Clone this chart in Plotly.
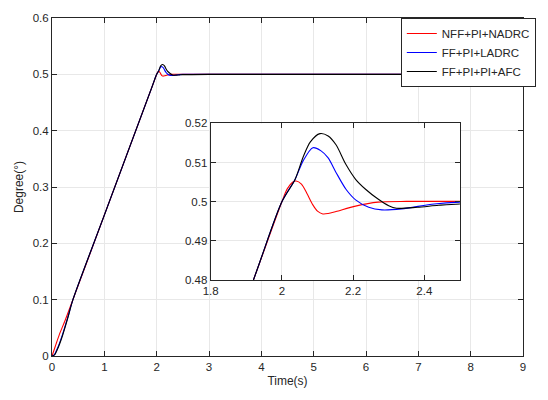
import plotly.graph_objects as go

# ---- data ----
names = ["NFF+PI+NADRC", "FF+PI+LADRC", "FF+PI+PI+AFC"]
colors = ["#ff0000", "#0000ff", "#000000"]

t_red = [0, 0.03, 0.08, 0.14, 0.25, 0.4, 1.0, 1.92, 2.0, 2.015, 2.03, 2.04, 2.055, 2.07,
         2.087, 2.10, 2.115, 2.13, 2.152, 2.207, 2.27, 2.35, 2.5, 3.0, 9.0]
y_red = [0, 0.008, 0.022, 0.038, 0.063, 0.1, 0.25, 0.48, 0.5, 0.5033, 0.5050, 0.5053, 0.5045, 0.5022,
         0.4992, 0.4976, 0.4969, 0.4970, 0.4975, 0.4989, 0.4999, 0.5001, 0.5001, 0.5, 0.5]

t_blue = [0, 0.05, 0.1, 0.14, 0.2, 0.3, 0.4, 1.0, 1.92, 2.0, 2.037, 2.06, 2.087, 2.11, 2.13,
          2.152, 2.18, 2.207, 2.244, 2.281, 2.336, 2.428, 2.5, 3.0, 9.0]
y_blue = [0, 0.003, 0.013, 0.022, 0.038, 0.068, 0.1, 0.25, 0.48, 0.5, 0.5057, 0.5105, 0.5138, 0.5130, 0.5112,
          0.5075, 0.5032, 0.5005, 0.4986, 0.49794, 0.4982, 0.49945, 0.4999, 0.5, 0.5]

t_black = [0, 0.05, 0.1, 0.14, 0.2, 0.3, 0.4, 1.0, 1.92, 2.0, 2.037, 2.06, 2.08, 2.107, 2.13,
           2.152, 2.18, 2.207, 2.235, 2.27, 2.30, 2.322, 2.38, 2.44, 2.5, 3.0, 9.0]
y_black = [0, 0.002, 0.011, 0.020, 0.036, 0.067, 0.1, 0.25, 0.48, 0.5, 0.5057, 0.5115, 0.5153, 0.5174, 0.5168,
           0.51455, 0.5095, 0.50574, 0.5032, 0.5007, 0.4990, 0.49836, 0.4986, 0.4991, 0.49945, 0.5, 0.5]

series = [(t_red, y_red), (t_blue, y_blue), (t_black, y_black)]

main_xticks = [0, 1, 2, 3, 4, 5, 6, 7, 8, 9]
main_yticks = [0, 0.1, 0.2, 0.3, 0.4, 0.5, 0.6]
main_ylabels = ["0", "0.1", "0.2", "0.3", "0.4", "0.5", "0.6"]
inset_xticks = [1.8, 2.0, 2.2, 2.4]
inset_xlabels = ["1.8", "2", "2.2", "2.4"]
inset_yticks = [0.48, 0.49, 0.50, 0.51, 0.52]
inset_ylabels = ["0.48", "0.49", "0.5", "0.51", "0.52"]

fig = go.Figure()
for (t, y), n, c in zip(series, names, colors):
    fig.add_trace(go.Scatter(x=t, y=y, mode="lines", name=n,
                             line=dict(color=c, width=1.1, shape="spline", smoothing=0.8),
                             xaxis="x", yaxis="y"))
for (t, y), n, c in zip(series, names, colors):
    fig.add_trace(go.Scatter(x=t, y=y, mode="lines", name=n + " zoom", showlegend=False,
                             line=dict(color=c, width=1.1, shape="spline", smoothing=0.8),
                             xaxis="x2", yaxis="y2"))

axcol = "#262626"
gridcol = "#e8e8e8"
common = dict(showline=True, linecolor=axcol, linewidth=1, mirror="ticks",
              ticks="inside", ticklen=5, tickcolor=axcol, tickwidth=1,
              showgrid=True, gridcolor=gridcol, gridwidth=1, zeroline=False,
              tickfont=dict(family="Liberation Sans, Arial", size=11.5, color=axcol))

L, R, T, B = 52, 18, 13, 44
W, H = 548, 400
pw, ph = W - L - R, H - T - B

def px_x(p):
    return (p - L) / pw

def px_y(p):
    return (H - B - p) / ph

fig.update_layout(
    width=W, height=H,
    margin=dict(l=L, r=R, t=T, b=B),
    paper_bgcolor="white", plot_bgcolor="white",
    font=dict(family="Liberation Sans, Arial", size=11, color=axcol),
    xaxis=dict(range=[0, 9], tickvals=main_xticks, domain=[0, 1],
               title=dict(text="Time(s)", font=dict(size=12), standoff=4), **common),
    yaxis=dict(range=[0, 0.6], tickvals=main_yticks, ticktext=main_ylabels, domain=[0, 1],
               title=dict(text="Degree(°)", font=dict(size=12), standoff=6), **common),
    xaxis2=dict(range=[1.8, 2.5], tickvals=inset_xticks, ticktext=inset_xlabels,
                domain=[px_x(213), px_x(466)], anchor="y2", **common),
    yaxis2=dict(range=[0.48, 0.52], tickvals=inset_yticks, ticktext=inset_ylabels,
                domain=[px_y(279), px_y(120)], anchor="x2", **common),
    legend=dict(x=px_x(543), y=1, xanchor="right", yanchor="top",
                bgcolor="white", bordercolor=axcol, borderwidth=1,
                font=dict(family="Liberation Sans, Arial", size=11.5, color=axcol),
                tracegroupgap=0, itemwidth=30),
    showlegend=True,
)

fig.write_html("out.html")
